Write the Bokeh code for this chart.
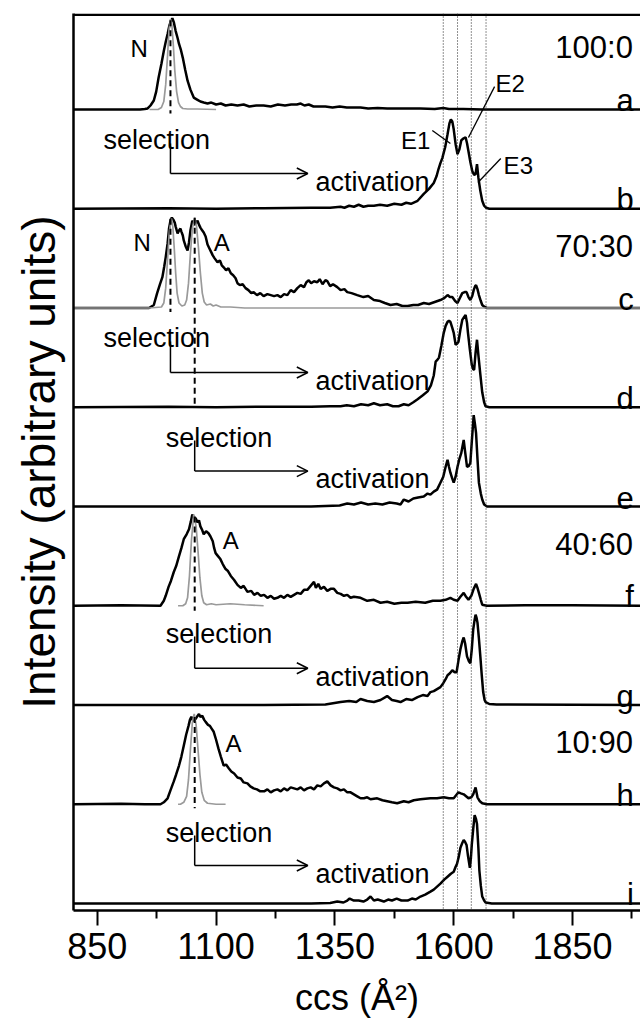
from bokeh.plotting import figure
from bokeh.models import Range1d, FixedTicker, Span, Arrow, OpenHead, Title
from bokeh.core.properties import value
from bokeh.embed import file_html
from bokeh.resources import INLINE

FONT = "Liberation Sans"

# ---------------- data ----------------
panels = ["a", "b", "c", "d", "e", "f", "g", "h", "i"]
ratio_labels = {"a": "100:0", "c": "70:30", "f": "40:60", "h": "10:90"}
x_ticks = [850, 1100, 1350, 1600, 1850]
x_minor = [975, 1225, 1475, 1725, 1975]
e_lines = [1578, 1608, 1637, 1668]
sel_N = 1004
sel_A = 1055

# black traces: [ccs, intensity (% of panel height)]
black_a = [(800,0),(940,0),(950,0.5),(956,1),(962,4),(969,9),(974,18),(979,32),(985,46),(990,59),
           (994,68),(998,76),(1002,85),(1005,89),(1008,92),(1011,88),(1015,79),(1019,72),(1022,66),(1026,60),
           (1030,52),(1035,40),(1040,29),(1046,20),(1053,12),(1060,10),(1067,8),(1074,7),(1082,6),(1090,7),
           (1100,5),(1110,6),(1120,4),(1132,5),(1145,4),(1158,5),(1170,3),(1185,4),(1200,4),(1215,3),
           (1230,5),(1245,4),(1258,5),(1270,5),(1278,6),(1286,4),(1295,5),(1305,3),(1318,3),(1330,3),
           (1345,2),(1360,3),(1375,2),(1390,2),(1404,2),(1420,1),(1440,1.5),(1460,1),(1480,1),(1500,1),
           (1530,1),(1560,0.5),(1578,1.5),(1590,0.5),(1620,0.5),(1660,0),(1700,0),(2000,0)]
black_b = [(800,0),(1000,0.5),(1100,0),(1200,0.5),(1300,1),(1340,1),(1362,2),(1370,1),(1380,3),(1390,2),
           (1400,4),(1410,2),(1420,3),(1432,3),(1445,4),(1460,3),(1475,5),(1490,4),(1500,6),(1510,5),
           (1524,8),(1537,15),(1548,20),(1558,26),(1564,33),(1568,40),(1572,46),(1576,51),(1582,62),(1587,75),
           (1591,86),(1594,90),(1597,88),(1600,80),(1604,65),(1608,55),(1612,60),(1616,69),(1621,71),(1625,72),
           (1628,66),(1631,58),(1635,47),(1639,38),(1643,34),(1646,35),(1649,45),(1652,31),(1656,18),(1660,8),
           (1664,3),(1668,1),(1675,0),(2000,0)]
black_c = [(800,0),(940,0),(959,0),(969,3),(976,15),(982,24),(987,31),(991,42),(994,51),(998,65),
           (1001,80),(1004,88),(1007,91),(1010,89),(1013,86),(1015,82),(1019,75),(1022,78),(1025,80),(1027,77),
           (1030,73),(1032,68),(1036,62),(1040,58),(1043,66),(1046,78),(1050,88),(1054,84),(1057,85),(1061,88),
           (1064,84),(1067,81),(1071,78),(1074,76),(1078,72),(1082,64),(1086,60),(1090,56),(1093,53),(1097,50),
           (1103,46),(1108,48),(1112,43),(1116,41),(1121,38),(1126,40),(1131,35),(1136,33),(1141,30),(1145,25),
           (1150,23),(1156,24),(1162,20),(1168,18),(1174,15),(1179,16),(1186,13),(1193,15),(1200,12),(1208,14),
           (1215,13),(1222,12),(1229,13),(1236,11),(1243,14),(1250,13),(1257,18),(1264,16),(1271,20),(1278,23),
           (1285,21),(1290,26),(1295,28),(1300,25),(1306,27),(1313,26),(1318,29),(1324,24),(1330,28),(1334,27),
           (1340,22),(1346,24),(1355,21),(1362,18),(1370,19),(1376,16),(1385,15),(1397,13),(1410,11),(1420,12),
           (1432,8),(1445,7),(1455,5),(1467,3),(1480,4),(1492,2),(1503,2),(1515,3),(1525,3),(1537,5),
           (1548,4),(1560,6),(1572,8),(1580,10),(1587,13),(1592,11),(1597,11),(1603,7),(1608,5),(1613,10),
           (1618,15),(1623,16),(1627,16),(1631,11),(1635,8),(1639,12),(1642,18),(1645,22),(1647,23),(1650,19),
           (1653,13),(1657,7),(1660,3),(1665,1),(1670,0),(2000,0)]
black_d = [(800,0),(1000,0.5),(1100,0),(1200,0.5),(1300,0.5),(1340,1),(1362,1),(1375,2),(1390,1),(1405,3),
           (1420,2),(1432,4),(1445,2),(1460,3),(1472,1),(1484,1),(1495,3),(1505,2),(1515,5),(1524,8),
           (1535,12),(1545,16),(1552,22),(1558,32),(1562,46),(1566,48),(1569,50),(1574,62),(1579,75),(1583,82),
           (1587,86),(1590,87),(1593,86),(1597,80),(1600,75),(1604,63),(1607,64),(1610,66),(1614,78),(1618,88),
           (1622,91),(1625,93),(1628,85),(1630,75),(1634,58),(1638,43),(1641,38),(1643,38),(1646,55),(1649,68),
           (1652,52),(1656,33),(1660,15),(1664,5),(1667,1),(1675,0),(2000,0)]
black_e = [(800,0),(1100,0),(1300,0),(1360,1),(1376,3),(1390,2),(1405,4),(1420,2),(1435,3),(1450,2),
           (1465,4),(1480,3),(1488,2),(1495,7),(1505,5),(1515,8),(1525,9),(1537,10),(1545,13),(1551,12),
           (1558,15),(1565,17),(1572,24),(1578,30),(1583,40),(1587,47),(1590,40),(1593,34),(1597,28),(1600,24),
           (1604,30),(1608,40),(1612,48),(1616,54),(1619,62),(1621,67),(1624,55),(1628,40),(1632,41),(1635,44),
           (1638,65),(1641,85),(1642,92),(1645,82),(1647,74),(1650,48),(1653,24),(1657,13),(1660,7),(1664,2),
           (1670,0),(2000,0)]
black_f = [(800,0),(900,0.5),(983,0),(990,5),(994,10),(1000,19),(1005,25),(1011,34),(1016,40),(1022,50),
           (1027,58),(1032,67),(1038,72),(1043,77),(1047,85),(1050,92),(1053,89),(1057,88),(1061,84),(1064,86),
           (1067,80),(1071,76),(1074,72),(1079,75),(1084,73),(1088,70),(1093,65),(1096,58),(1099,53),(1104,50),
           (1109,47),(1114,42),(1120,37),(1125,35),(1131,30),(1138,26),(1145,21),(1152,18),(1158,20),(1166,14),
           (1174,15),(1180,11),(1187,13),(1194,10),(1201,11),(1208,8),(1215,10),(1222,7),(1229,8),(1236,10),
           (1243,8),(1250,11),(1257,9),(1264,11),(1271,13),(1278,12),(1285,16),(1292,16),(1299,20),(1306,24),
           (1310,18),(1315,22),(1320,17),(1327,19),(1334,15),(1341,17),(1348,17),(1355,13),(1362,12),(1369,10),
           (1376,11),(1383,8),(1390,9),(1404,8),(1418,5),(1432,6),(1446,3),(1460,4),(1475,2),(1490,3),
           (1503,3),(1520,4),(1540,3),(1556,5),(1572,5),(1583,6),(1593,8),(1600,6),(1608,5),(1614,9),
           (1621,13),(1626,9),(1631,6),(1637,10),(1642,17),(1647,22),(1650,18),(1653,13),(1657,6),(1660,1),
           (1670,0),(1750,0.5),(1850,0.5),(2000,0)]
black_g = [(800,0),(1000,0),(1200,0),(1330,0.5),(1362,3),(1380,4),(1395,3),(1404,6),(1418,4),(1432,3),
           (1446,5),(1460,9),(1470,5),(1480,4),(1488,3),(1500,6),(1512,5),(1524,8),(1535,10),(1545,9),
           (1551,13),(1558,14),(1565,16),(1572,18),(1578,22),(1583,26),(1587,30),(1592,32),(1597,35),(1602,33),
           (1606,33),(1610,45),(1614,56),(1618,64),(1621,68),(1624,62),(1628,49),(1632,44),(1635,42),(1638,56),
           (1641,76),(1644,86),(1646,91),(1648,88),(1650,83),(1653,67),(1656,49),(1659,30),(1662,13),(1665,5),
           (1667,3),(1675,1),(1690,0.5),(2000,0)]
black_h = [(800,0),(900,0.5),(950,0),(983,0),(990,2),(998,6),(1004,14),(1011,23),(1016,30),(1022,39),
           (1027,48),(1032,59),(1037,70),(1042,79),(1045,85),(1048,88),(1052,84),(1057,86),(1061,89),(1064,91),
           (1067,88),(1071,89),(1075,85),(1078,83),(1083,80),(1087,79),(1091,76),(1095,73),(1100,65),(1105,56),
           (1110,48),(1116,39),(1121,40),(1127,36),(1132,33),(1138,31),(1145,27),(1152,26),(1158,22),(1166,21),
           (1172,18),(1179,16),(1186,15),(1193,13),(1201,13),(1208,15),(1215,12),(1222,14),(1229,15),(1236,13),
           (1243,16),(1250,14),(1257,17),(1264,16),(1271,15),(1278,17),(1285,14),(1292,16),(1299,17),(1306,15),
           (1313,19),(1320,18),(1327,21),(1334,23),(1341,19),(1348,17),(1355,16),(1362,14),(1369,15),(1376,12),
           (1383,12),(1390,10),(1397,8),(1404,6),(1411,6),(1418,7),(1425,5),(1439,6),(1450,4),(1460,3),
           (1470,2),(1481,1),(1495,3),(1505,2),(1516,4),(1530,5),(1551,6),(1565,6),(1579,7),(1590,6),
           (1600,6),(1605,9),(1610,12),(1615,11),(1621,10),(1626,8),(1631,6),(1637,7),(1641,10),(1646,17),
           (1650,7),(1655,3),(1660,1),(1670,0),(2000,0)]
black_i = [(800,0),(1000,0),(1200,0),(1300,0),(1340,0.5),(1355,2),(1368,1),(1376,3),(1381,5),(1390,3),
           (1400,3),(1410,2),(1418,4),(1425,7),(1432,3),(1440,4),(1453,2),(1462,4),(1470,3),(1480,5),
           (1490,3),(1503,3),(1512,5),(1520,4),(1530,7),(1540,9),(1551,12),(1558,14),(1565,17),(1572,20),
           (1580,24),(1587,27),(1594,30),(1600,32),(1604,37),(1607,40),(1611,48),(1614,56),(1618,61),(1621,64),
           (1624,62),(1627,59),(1630,48),(1634,36),(1636,45),(1638,59),(1641,75),(1644,89),(1647,85),(1649,80),
           (1652,55),(1654,33),(1657,18),(1660,7),(1664,3),(1667,1),(1680,0),(2000,0)]

# grey (selected ion) traces
gray_a = [(960,0),(978,0),(985,2),(990,8),(994,25),(998,55),(1001,80),(1004,91),(1007,85),(1010,65),
          (1013,40),(1017,18),(1021,7),(1025,3),(1030,1),(1040,0.5),(1060,0.5),(1100,0)]
gray_c = [(800,0),(960,0),(985,1),(990,5),(994,20),(998,50),(1002,78),(1006,90),(1009,82),(1012,60),
          (1015,35),(1018,15),(1022,5),(1028,2),(1034,3),(1038,8),(1042,25),(1046,55),(1050,80),(1055,91),
          (1059,82),(1063,60),(1067,35),(1071,15),(1075,6),(1080,3),(1088,4),(1094,2),(1100,3),(1110,1),
          (1130,1),(1160,0),(2000,0)]
gray_f = [(1020,0),(1030,0),(1036,2),(1040,8),(1044,30),(1048,65),(1053,92),(1058,80),(1062,55),(1066,28),
          (1070,10),(1074,3),(1080,1),(1090,2),(1100,1),(1130,2),(1160,1),(1200,0)]
gray_h = [(1020,0),(1025,0),(1032,2),(1038,8),(1042,25),(1046,55),(1050,82),(1054,91),(1058,80),(1062,55),
          (1066,30),(1070,12),(1075,4),(1082,1),(1100,0),(1120,0)]

black = {"a": black_a, "b": black_b, "c": black_c, "d": black_d, "e": black_e,
         "f": black_f, "g": black_g, "h": black_h, "i": black_i}
gray = {"a": gray_a, "c": gray_c, "f": gray_f, "h": gray_h}

# ---------------- layout constants ----------------
STEP = 100
base = {k: (len(panels) - 1 - n) * STEP for n, k in enumerate(panels)}
ARROW_END = 1293
X_RIGHT = 1977

p = figure(frame_width=567, frame_height=897, x_range=Range1d(800, 1993), y_range=Range1d(-7.05, 896.7),
           output_backend="svg", toolbar_location=None,
           min_border_left=73, min_border_right=0, min_border_top=13, min_border_bottom=117)
p.outline_line_color = None
p.grid.visible = False

xa = p.xaxis[0]
xa.ticker = FixedTicker(ticks=x_ticks, minor_ticks=x_minor)
xa.major_tick_out = 15
xa.major_tick_in = 0
xa.minor_tick_out = 8
xa.minor_tick_in = 0
xa.axis_line_width = 2.5
xa.axis_line_color = "black"
xa.major_tick_line_width = 2
xa.minor_tick_line_width = 2
xa.major_tick_line_color = "black"
xa.minor_tick_line_color = "black"
xa.major_label_text_font = FONT
xa.major_label_text_font_size = "36px"
xa.major_label_text_color = "black"
xa.major_label_standoff = 7
xa.axis_label = "ccs (Å²)"
xa.axis_label_text_font = FONT
xa.axis_label_text_font_size = "36px"
xa.axis_label_text_font_style = "normal"
xa.axis_label_text_color = "black"
xa.axis_label_standoff = 15

ya = p.yaxis[0]
ya.ticker = FixedTicker(ticks=[])
ya.major_tick_line_color = None
ya.minor_tick_line_color = None
ya.major_label_standoff = 0
ya.axis_line_width = 2.5
ya.axis_line_color = "black"

# y-axis title on the left side, shifted slightly below the frame centre
p.add_layout(Title(text="Intensity (arbitrary units)", align="center", offset=-43, standoff=18,
                   text_font=FONT, text_font_size="46px", text_font_style="normal",
                   text_color="black"), "left")

# top border
p.add_layout(Span(location=895.5, dimension="width", line_color="black", line_width=2.5))

# dotted reference lines
for xv in e_lines:
    p.add_layout(Span(location=xv, dimension="height", line_color="#222222",
                      line_width=1, line_dash="1 2"))

# traces
for k in panels:
    xs, ys = zip(*black[k])
    p.line(list(xs), [base[k] + v for v in ys], line_color="black", line_width=2.5)
for k in gray:
    xs, ys = zip(*gray[k])
    p.line(list(xs), [base[k] + v for v in ys], line_color="#9a9a9a", line_width=1.7)

# dashed selection markers
dashes = [(sel_N, base["a"] + 90, base["a"] - 4),
          (sel_N, base["c"] + 90, base["c"] - 4),
          (sel_A, base["c"] + 91, base["d"] + 3),
          (sel_A, base["f"] + 90, base["f"] - 5),
          (sel_A, base["h"] + 88, base["h"] - 4)]
for xv, y0, y1 in dashes:
    p.line([xv, xv], [y0, y1], line_color="black", line_width=2, line_dash="6 4")

# selection -> activation arrows
arrows = [("b", sel_N, 863, 68.8, 35.5),
          ("d", sel_N, 863, 69.3, 35.0),
          ("e", sel_A, 994, 69.5, 35.7),
          ("g", sel_A, 994, 72.0, 37.0),
          ("i", sel_A, 994, 71.5, 38.3)]
for k, sx, tx, tb, ay in arrows:
    b0 = base[k]
    p.text(x=[tx], y=[b0 + tb], text=["selection"], text_font=value(FONT), text_font_size="27px",
           text_align="left", text_baseline="alphabetic", text_color="black")
    p.line([sx, sx], [b0 + tb - 3, b0 + ay], line_color="black", line_width=1.5)
    p.add_layout(Arrow(end=OpenHead(size=11, line_width=1.5, line_color="black"),
                       x_start=sx, y_start=b0 + ay, x_end=ARROW_END, y_end=b0 + ay,
                       line_width=1.5, line_color="black"))
    p.text(x=[ARROW_END + 16], y=[b0 + ay - 8.5], text=["activation"], text_font=value(FONT),
           text_font_size="27px", text_align="left", text_baseline="alphabetic", text_color="black")

# ratio labels and panel letters
for k, lab in ratio_labels.items():
    p.text(x=[X_RIGHT], y=[base[k] + 62], text=[lab], text_font=value(FONT), text_font_size="31px",
           text_align="right", text_baseline="alphabetic", text_color="black")
p.text(x=[X_RIGHT + 2] * len(panels), y=[base[k] + 9 for k in panels], text=panels,
       text_font=value(FONT), text_font_size="31px", text_align="right",
       text_baseline="alphabetic", text_color="black")

# peak labels
peak_labels = [("N", 920, base["a"] + 61.5), ("N", 926, base["c"] + 66),
               ("A", 1095, base["c"] + 66), ("A", 1114, base["f"] + 65.7),
               ("A", 1120, base["h"] + 61),
               ("E1", 1489, base["b"] + 68.8), ("E2", 1688, base["a"] + 26),
               ("E3", 1705, base["b"] + 43.6)]
p.text(x=[t[1] for t in peak_labels], y=[t[2] for t in peak_labels], text=[t[0] for t in peak_labels],
       text_font=value(FONT), text_font_size="24px", text_align="left",
       text_baseline="alphabetic", text_color="black")

# leader lines for E1/E2/E3
leaders = [((1555, base["b"] + 78.8), (1593, base["b"] + 65.7)),
           ((1686, base["a"] + 23), (1631, base["b"] + 71.8)),
           ((1699, base["b"] + 50.6), (1651, base["b"] + 26.4))]
p.segment(x0=[l[0][0] for l in leaders], y0=[l[0][1] for l in leaders],
          x1=[l[1][0] for l in leaders], y1=[l[1][1] for l in leaders],
          line_color="black", line_width=1.3)

open("out.html", "w").write(file_html(p, INLINE))
